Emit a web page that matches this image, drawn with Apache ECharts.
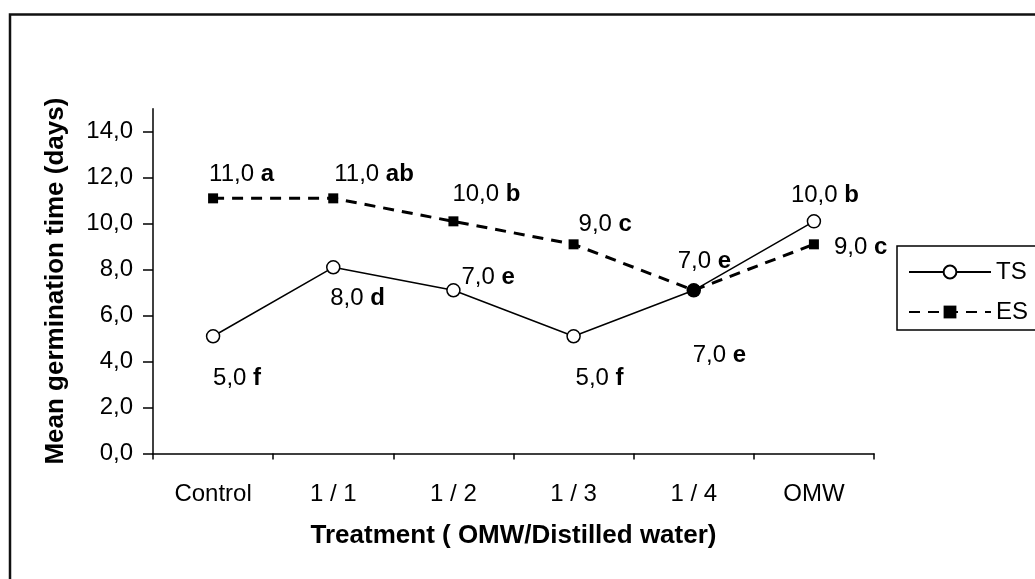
<!DOCTYPE html>
<html>
<head>
<meta charset="utf-8">
<script src="https://cdn.jsdelivr.net/npm/echarts@6/dist/echarts.min.js"></script>
<style>
  html, body { margin: 0; background: #fff; }
  #chart { width: 1035px; height: 579px; }
</style>
</head>
<body>
<div id="chart"></div>
<script>
// data
var categories = ['Control', '1 / 1', '1 / 2', '1 / 3', '1 / 4', 'OMW'];
var tsValues = [5.1, 8.1, 7.1, 5.1, 7.1, 10.1];
var esValues = [11.1, 11.1, 10.1, 9.1, 7.1, 9.1];
var tsNumbers = ['5,0', '8,0', '7,0', '5,0', '7,0', '10,0'];
var tsLetters = ['f', 'd', 'e', 'f', 'e', 'b'];
var esNumbers = ['11,0', '11,0', '10,0', '9,0', '7,0', '9,0'];
var esLetters = ['a', 'ab', 'b', 'c', 'e', 'c'];
var yTicks = [0, 2, 4, 6, 8, 10, 12, 14];

// label placement (px from the marker, text left edge)
var tsOffsets = [[0, 42], [-3, 31], [8, -13], [2, 42], [-16, -29], [-23, -26]];
var esOffsets = [[-4, -24], [1, -24], [-1, -27], [5, -20], [-1, 65], [20, 3]];
var filledIndex = 4; // TS marker drawn solid where both series meet

var FONT = '"Liberation Sans", Arial, sans-serif';

function makeData(values, numbers, letters, offsets, isTs) {
  return values.map(function (v, i) {
    var item = {
      value: v,
      label: {
        show: true,
        position: 'inside',
        align: 'left',
        verticalAlign: 'middle',
        offset: offsets[i],
        formatter: '{n|' + numbers[i] + ' }{b|' + letters[i] + '}'
      }
    };
    if (isTs && i === filledIndex) {
      item.itemStyle = { color: '#000' };
    }
    return item;
  });
}

var labelRich = {
  n: { fontSize: 24, color: '#000', fontFamily: FONT },
  b: { fontSize: 24, color: '#000', fontWeight: 'bold', fontFamily: FONT }
};

var chart = echarts.init(document.getElementById('chart'));
chart.setOption({
  animation: false,
  backgroundColor: '#fff',
  textStyle: { fontFamily: FONT, color: '#000' },
  graphic: [{
    type: 'rect',
    shape: { x: 10, y: 14.5, width: 1100, height: 700 },
    style: { fill: 'none', stroke: '#111', lineWidth: 2.5 },
    silent: true
  }],
  grid: { left: 153, right: 161, top: 108.7, bottom: 125.5, containLabel: false },
  legend: {
    orient: 'vertical',
    left: 897,
    top: 246,
    padding: [13, 40, 5, 11],
    itemWidth: 82,
    itemHeight: 16,
    itemGap: 14,
    borderColor: '#000',
    borderWidth: 1.5,
    backgroundColor: '#fff',
    textStyle: { fontSize: 24, color: '#000', fontFamily: FONT, lineHeight: 26 },
    data: ['TS', 'ES']
  },
  xAxis: {
    type: 'category',
    data: categories,
    boundaryGap: true,
    name: 'Treatment ( OMW/Distilled water)',
    nameLocation: 'middle',
    nameGap: 69,
    nameTextStyle: { fontSize: 26, fontWeight: 'bold', color: '#000', fontFamily: FONT },
    axisLine: { lineStyle: { color: '#000', width: 1.5 } },
    axisTick: { show: true, length: 6, interval: 0, lineStyle: { color: '#000', width: 1.5 } },
    axisLabel: { fontSize: 24, color: '#000', margin: 29, interval: 0, fontFamily: FONT },
    splitLine: { show: false }
  },
  yAxis: {
    type: 'value',
    min: 0,
    max: 15,
    interval: 2,
    name: 'Mean germination time (days)',
    nameLocation: 'middle',
    nameGap: 84,
    nameTextStyle: { fontSize: 26, fontWeight: 'bold', color: '#000', fontFamily: FONT },
    axisLine: { show: true, lineStyle: { color: '#000', width: 1.5 } },
    axisTick: { show: true, length: 10, customValues: yTicks, lineStyle: { color: '#000', width: 1.5 } },
    axisLabel: {
      fontSize: 24, color: '#000', margin: 20, fontFamily: FONT,
      customValues: yTicks,
      formatter: function (v) { return v.toFixed(1).replace('.', ','); }
    },
    splitLine: { show: false }
  },
  series: [
    {
      name: 'TS',
      type: 'line',
      data: makeData(tsValues, tsNumbers, tsLetters, tsOffsets, true),
      symbol: 'circle',
      symbolSize: 13,
      itemStyle: { color: '#fff', borderColor: '#000', borderWidth: 1.5 },
      lineStyle: { color: '#000', width: 1.5, type: 'solid' },
      label: { rich: labelRich },
      z: 2
    },
    {
      name: 'ES',
      type: 'line',
      data: makeData(esValues, esNumbers, esLetters, esOffsets, false),
      symbol: 'rect',
      symbolSize: 10,
      itemStyle: { color: '#000', borderColor: '#000', borderWidth: 0 },
      lineStyle: { color: '#000', width: 3, type: [11, 8] },
      label: { rich: labelRich },
      z: 3
    }
  ]
});
</script>
</body>
</html>
